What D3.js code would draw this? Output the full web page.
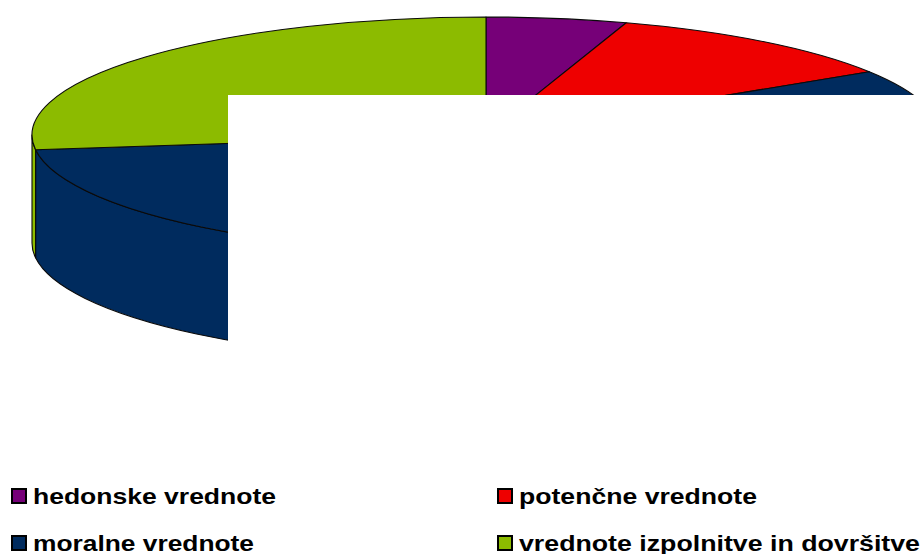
<!DOCTYPE html>
<html>
<head>
<meta charset="utf-8">
<script src="https://cdn.jsdelivr.net/npm/d3@7"></script>
<style>
  body { margin: 0; background: #fff; }
  svg { display: block; }
  text { font-family: "Liberation Sans", Arial, sans-serif; font-weight: bold; }
</style>
</head>
<body>
<svg id="gfx" width="924" height="554"></svg>
<script>
// slice data (percent), clockwise from 12 o'clock
var categories = ["hedonske vrednote", "potenčne vrednote", "moralne vrednote", "vrednote izpolnitve in dovršitve"];
var values = [5, 11, 57, 27];
var colors = ["#760078", "#ee0000", "#002b5e", "#8cbb00"];

// legend is laid out row by row, two columns
var legendOrder = [0, 1, 2, 3];

var chart = {
    cx: 486, cy: 135,
    rx: 454, ry: 118,
    depth: 108
};

function pt(a, dy) {
    return [chart.cx + chart.rx * Math.sin(a), chart.cy - chart.ry * Math.cos(a) + (dy || 0)];
}

function topPath(d) {
    var p0 = pt(d.startAngle), p1 = pt(d.endAngle);
    var large = (d.endAngle - d.startAngle) > Math.PI ? 1 : 0;
    return "M" + chart.cx + "," + chart.cy +
        "L" + p0 + "A" + chart.rx + "," + chart.ry + " 0 " + large + " 1 " + p1 + "Z";
}

function sidePath(d) {
    var s0 = Math.max(d.startAngle, Math.PI / 2);
    var s1 = Math.min(d.endAngle, 3 * Math.PI / 2);
    if (s1 <= s0) return null;
    var a = pt(s0), b = pt(s1), c = pt(s1, chart.depth), e = pt(s0, chart.depth);
    return "M" + a + "A" + chart.rx + "," + chart.ry + " 0 0 1 " + b +
        "L" + c + "A" + chart.rx + "," + chart.ry + " 0 0 0 " + e + "Z";
}

function draw() {
    var svg = d3.select("#gfx");
    var pie = d3.pie().sort(null).value(d => d)(values);

    var sides = svg.append("g").attr("class", "sides");
    sides.selectAll("path")
        .data(pie.filter(d => sidePath(d) !== null))
        .enter().append("path")
        .attr("d", sidePath)
        .attr("fill", d => colors[d.index])
        .attr("stroke", "#0a0a0a")
        .attr("stroke-width", 1.1)
        .attr("stroke-linejoin", "round");

    var tops = svg.append("g").attr("class", "tops");
    tops.selectAll("path")
        .data(pie)
        .enter().append("path")
        .attr("d", topPath)
        .attr("fill", d => colors[d.index])
        .attr("stroke", "#0a0a0a")
        .attr("stroke-width", 1.1)
        .attr("stroke-linejoin", "round");

    // white block covering part of the chart, as in the source image
    svg.append("rect")
        .attr("x", 228).attr("y", 95)
        .attr("width", 924 - 228).attr("height", 470 - 95)
        .attr("fill", "#fff");

    // legend
    var legendX = d3.scaleOrdinal().domain([0, 1]).range([11, 497]);
    var legendY = d3.scaleOrdinal().domain([0, 1]).range([488, 535]);
    var textWidths = [243, 238, 221, 401];

    var items = svg.append("g").attr("class", "legend")
        .selectAll("g")
        .data(legendOrder)
        .enter().append("g")
        .attr("transform", (d, i) => "translate(" + legendX(i % 2) + "," + legendY(Math.floor(i / 2)) + ")");

    items.append("rect")
        .attr("x", 1).attr("y", 1)
        .attr("width", 14).attr("height", 14)
        .attr("fill", d => colors[d])
        .attr("stroke", "#000")
        .attr("stroke-width", 2);

    items.append("text")
        .attr("x", 22)
        .attr("y", 16)
        .attr("font-size", 22)
        .attr("fill", "#000")
        .attr("textLength", d => textWidths[d])
        .attr("lengthAdjust", "spacingAndGlyphs")
        .text(d => categories[d]);
}

draw();
</script>
</body>
</html>
